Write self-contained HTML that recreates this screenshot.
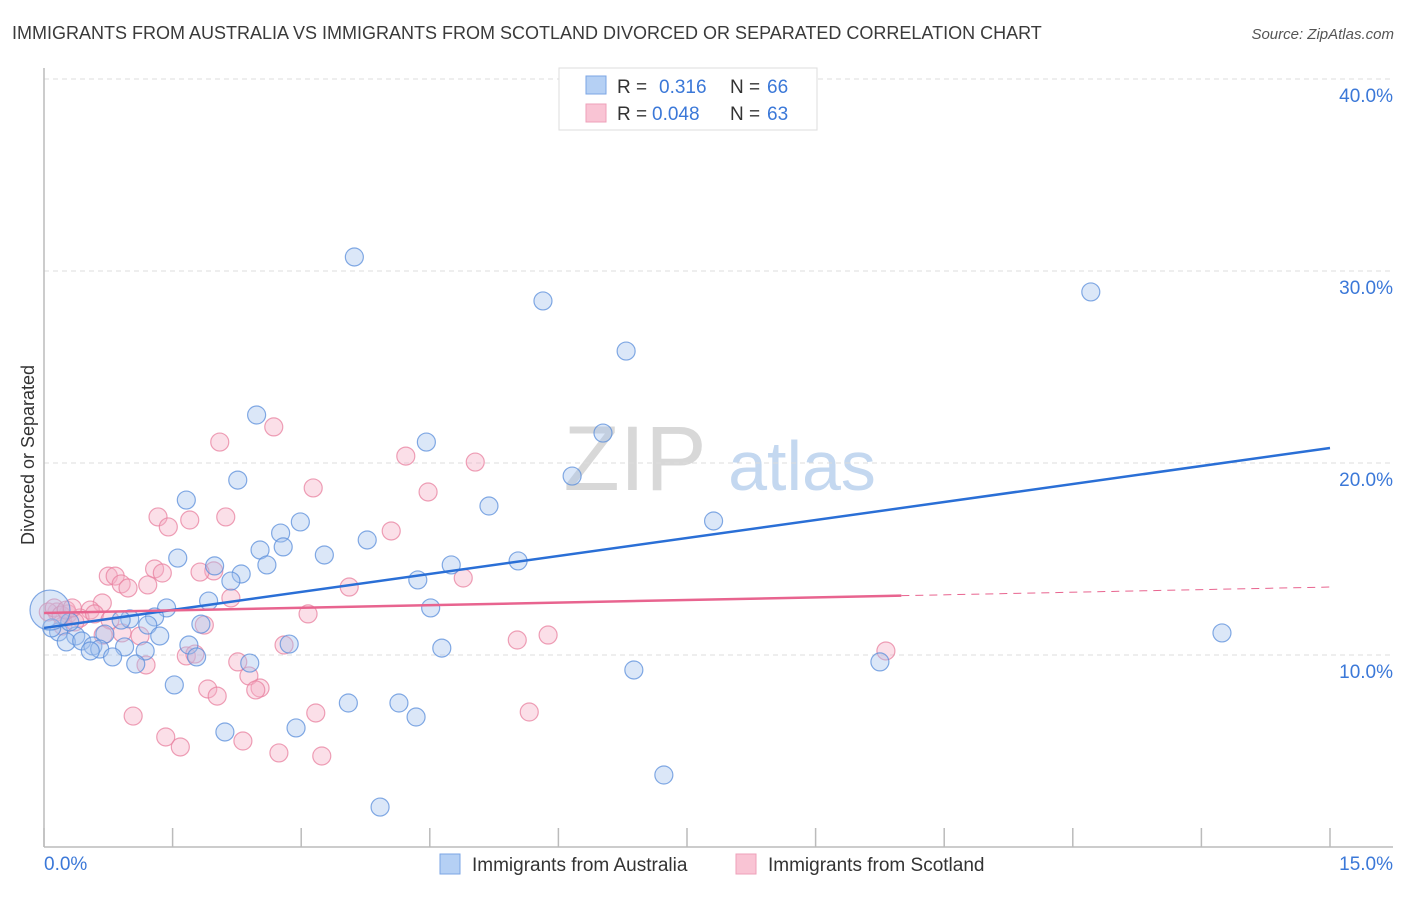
<!DOCTYPE html>
<html><head><meta charset="utf-8"><style>
body{margin:0;background:#fff;font-family:"Liberation Sans",sans-serif;}
svg text{font-family:"Liberation Sans",sans-serif;}
</style></head><body>
<svg id="chart" width="1406" height="892" viewBox="0 0 1406 892" xmlns="http://www.w3.org/2000/svg">
<text x="12" y="39" font-size="18" fill="#3a3a3a">IMMIGRANTS FROM AUSTRALIA VS IMMIGRANTS FROM SCOTLAND DIVORCED OR SEPARATED CORRELATION CHART</text>
<text x="1394" y="39" font-size="15" fill="#555" font-style="italic" text-anchor="end">Source: ZipAtlas.com</text>
<g>
<text x="635" y="490" font-size="92" fill="#d8d8d8" font-family="Liberation Serif" text-anchor="middle">ZIP</text>
<text x="802" y="490" font-size="70" fill="#c4d8f0" text-anchor="middle">atlas</text>
</g>
<g id="grid"></g>
<g id="axes"></g>
<g id="marks"></g>
<text transform="translate(34,455) rotate(-90)" font-size="18" fill="#333" text-anchor="middle">Divorced or Separated</text>
<g>
<rect x="559" y="68" width="258" height="62" fill="#fff" stroke="#ddd"/>
<rect x="586" y="76" width="20" height="18" fill="#b5d0f4" stroke="#7ba6e4"/>
<rect x="586" y="104" width="20" height="18" fill="#f9c4d4" stroke="#eea0ba"/>
<text x="617" y="93" font-size="19" fill="#333">R =</text><text x="659" y="93" font-size="19" fill="#3b78d8">0.316</text>
<text x="730" y="93" font-size="19" fill="#333">N =</text><text x="767" y="93" font-size="19" fill="#3b78d8">66</text>
<text x="617" y="120" font-size="19" fill="#333">R =</text><text x="652" y="120" font-size="19" fill="#3b78d8">0.048</text>
<text x="730" y="120" font-size="19" fill="#333">N =</text><text x="767" y="120" font-size="19" fill="#3b78d8">63</text>
</g>
<g>
<rect x="440" y="854" width="20" height="20" fill="#b5d0f4" stroke="#7ba6e4"/>
<text x="472" y="871" font-size="19" fill="#333">Immigrants from Australia</text>
<rect x="736" y="854" width="20" height="20" fill="#f9c4d4" stroke="#eea0ba"/>
<text x="768" y="871" font-size="19" fill="#333">Immigrants from Scotland</text>
</g>
</svg>
<script>
const yTicks=[10,20,30,40];
const yTickLabels=["10.0%","20.0%","30.0%","40.0%"];
const xTicks=[0,1.5,3,4.5,6,7.5,9,10.5,12,13.5,15];
const ausX=[3.62,5.82,12.21,6.79,2.48,4.46,6.52,6.16,2.26,1.66,5.19,7.81,2.99,2.76,2.52,2.79,3.77,3.27,5.53,4.75,1.56,1.99,2.60,2.30,2.18,4.36,1.92,4.51,1.43,1.29,1.00,0.90,1.21,1.83,0.17,0.37,0.71,1.35,0.26,0.44,0.57,0.65,0.94,1.69,2.86,4.64,0.54,0.80,1.18,1.78,2.40,1.07,1.52,6.88,9.75,13.74,3.55,4.14,4.34,2.94,2.11,7.23,3.92,0.09,0.30,0.07];
const ausY=[30.73,28.44,28.91,25.83,22.50,21.09,21.56,19.32,19.11,18.07,17.76,16.98,16.93,16.35,15.47,15.63,15.99,15.21,14.90,14.69,15.05,14.64,14.69,14.22,13.85,13.91,12.81,12.45,12.45,11.98,11.88,11.82,11.56,11.61,11.20,10.99,11.09,10.99,10.68,10.73,10.47,10.31,10.42,10.52,10.57,10.36,10.21,9.90,10.21,9.90,9.58,9.53,8.44,9.22,9.64,11.15,7.50,7.50,6.77,6.20,5.99,3.75,2.08,11.41,11.72,12.34];
const scoX=[2.68,2.05,4.22,5.03,3.14,4.48,1.33,1.70,1.45,2.12,4.05,1.29,1.38,0.75,0.83,0.90,0.98,1.21,1.98,1.82,2.18,3.56,4.89,0.68,0.54,0.15,0.28,0.42,0.59,0.77,0.22,0.36,3.08,1.87,0.91,1.12,0.69,1.66,1.76,2.80,5.52,5.88,2.26,2.39,1.91,2.02,2.52,2.47,1.19,9.82,1.04,3.17,5.66,1.42,1.59,2.32,2.74,3.24,0.05,0.12,0.20,0.26,0.33];
const scoY=[21.88,21.09,20.36,20.05,18.70,18.49,17.19,17.03,16.67,17.19,16.46,14.48,14.27,14.11,14.11,13.70,13.49,13.65,14.38,14.32,12.97,13.54,14.01,12.71,12.34,12.24,12.14,11.93,12.14,11.82,11.51,11.72,12.14,11.56,11.15,10.99,11.04,9.95,10.05,10.52,10.78,11.04,9.64,8.91,8.23,7.86,8.28,8.18,9.48,10.21,6.82,6.98,7.03,5.73,5.21,5.52,4.90,4.74,12.24,12.45,12.08,12.34,12.45];
const ausTrend=[11.41,20.78]; // y at x=0 and x=15
const scoTrend=[12.19,13.54]; // y at x=0 and x=15
const scoSolidEnd=10.0;
const NS="http://www.w3.org/2000/svg";
const sx=v=>44+v/15*1286, sy=v=>847-v*19.2;
function mk(tag,attrs,parent){const e=document.createElementNS(NS,tag);for(const k in attrs)e.setAttribute(k,attrs[k]);parent.appendChild(e);return e;}
const grid=document.getElementById('grid'),axes=document.getElementById('axes'),marks=document.getElementById('marks');
yTicks.forEach((t,i)=>{
 const l=mk('line',{x1:44,x2:1393,y1:sy(t),y2:sy(t),stroke:'#ddd','stroke-dasharray':'5,4'},grid);
 
 
 const tx=mk('text',{x:1393,y:sy(t)-20+27,'font-size':19,fill:'#3b78d8','text-anchor':'end'},axes);
 tx.setAttribute('y',sy(t)+23);
 tx.textContent=yTickLabels[i];
 
 
});
const al=mk('line',{x1:44,x2:44,y1:68,y2:847,stroke:'#bbb','stroke-width':1.5},axes);


const bl=mk('line',{x1:44,x2:1393,y1:847,y2:847,stroke:'#bbb','stroke-width':1.5},axes);


xTicks.forEach(t=>{
 const k=mk('line',{x1:sx(t),x2:sx(t),y1:828,y2:847,stroke:'#bbb','stroke-width':1.5},axes);
 
 
});
const x0=mk('text',{x:44,y:870,'font-size':19,fill:'#3b78d8'},axes);x0.textContent='0.0%';


const x1=mk('text',{x:1393,y:870,'font-size':19,fill:'#3b78d8','text-anchor':'end'},axes);x1.textContent='15.0%';


function dots(xs,ys,fill,stroke,name){
 xs.forEach((x,i)=>{
  const big=(i===xs.length-1&&name==='australia-point');
  const c=mk('circle',{cx:sx(x),cy:sy(ys[i]),r:big?20:9,fill:fill,'fill-opacity':0.4,stroke:stroke,'stroke-opacity':0.75,'stroke-width':1.2},marks);
  
  
 });
}
dots(scoX,scoY,'#f4b0c6','#e8809f','scotland-point');
dots(ausX,ausY,'#a4c4ee','#5a8edb','australia-point');
const at=mk('line',{x1:sx(0),y1:sy(ausTrend[0]),x2:sx(15),y2:sy(ausTrend[1]),stroke:'#2a6fd6','stroke-width':2.5},marks);


const ym=scoTrend[0]+(scoTrend[1]-scoTrend[0])*scoSolidEnd/15;
const st=mk('line',{x1:sx(0),y1:sy(scoTrend[0]),x2:sx(scoSolidEnd),y2:sy(ym),stroke:'#e8648f','stroke-width':2.5},marks);


const sd=mk('line',{x1:sx(scoSolidEnd),y1:sy(ym),x2:sx(15),y2:sy(scoTrend[1]),stroke:'#e8648f','stroke-width':1,'stroke-dasharray':'8,6'},marks);


</script>
</body></html>
